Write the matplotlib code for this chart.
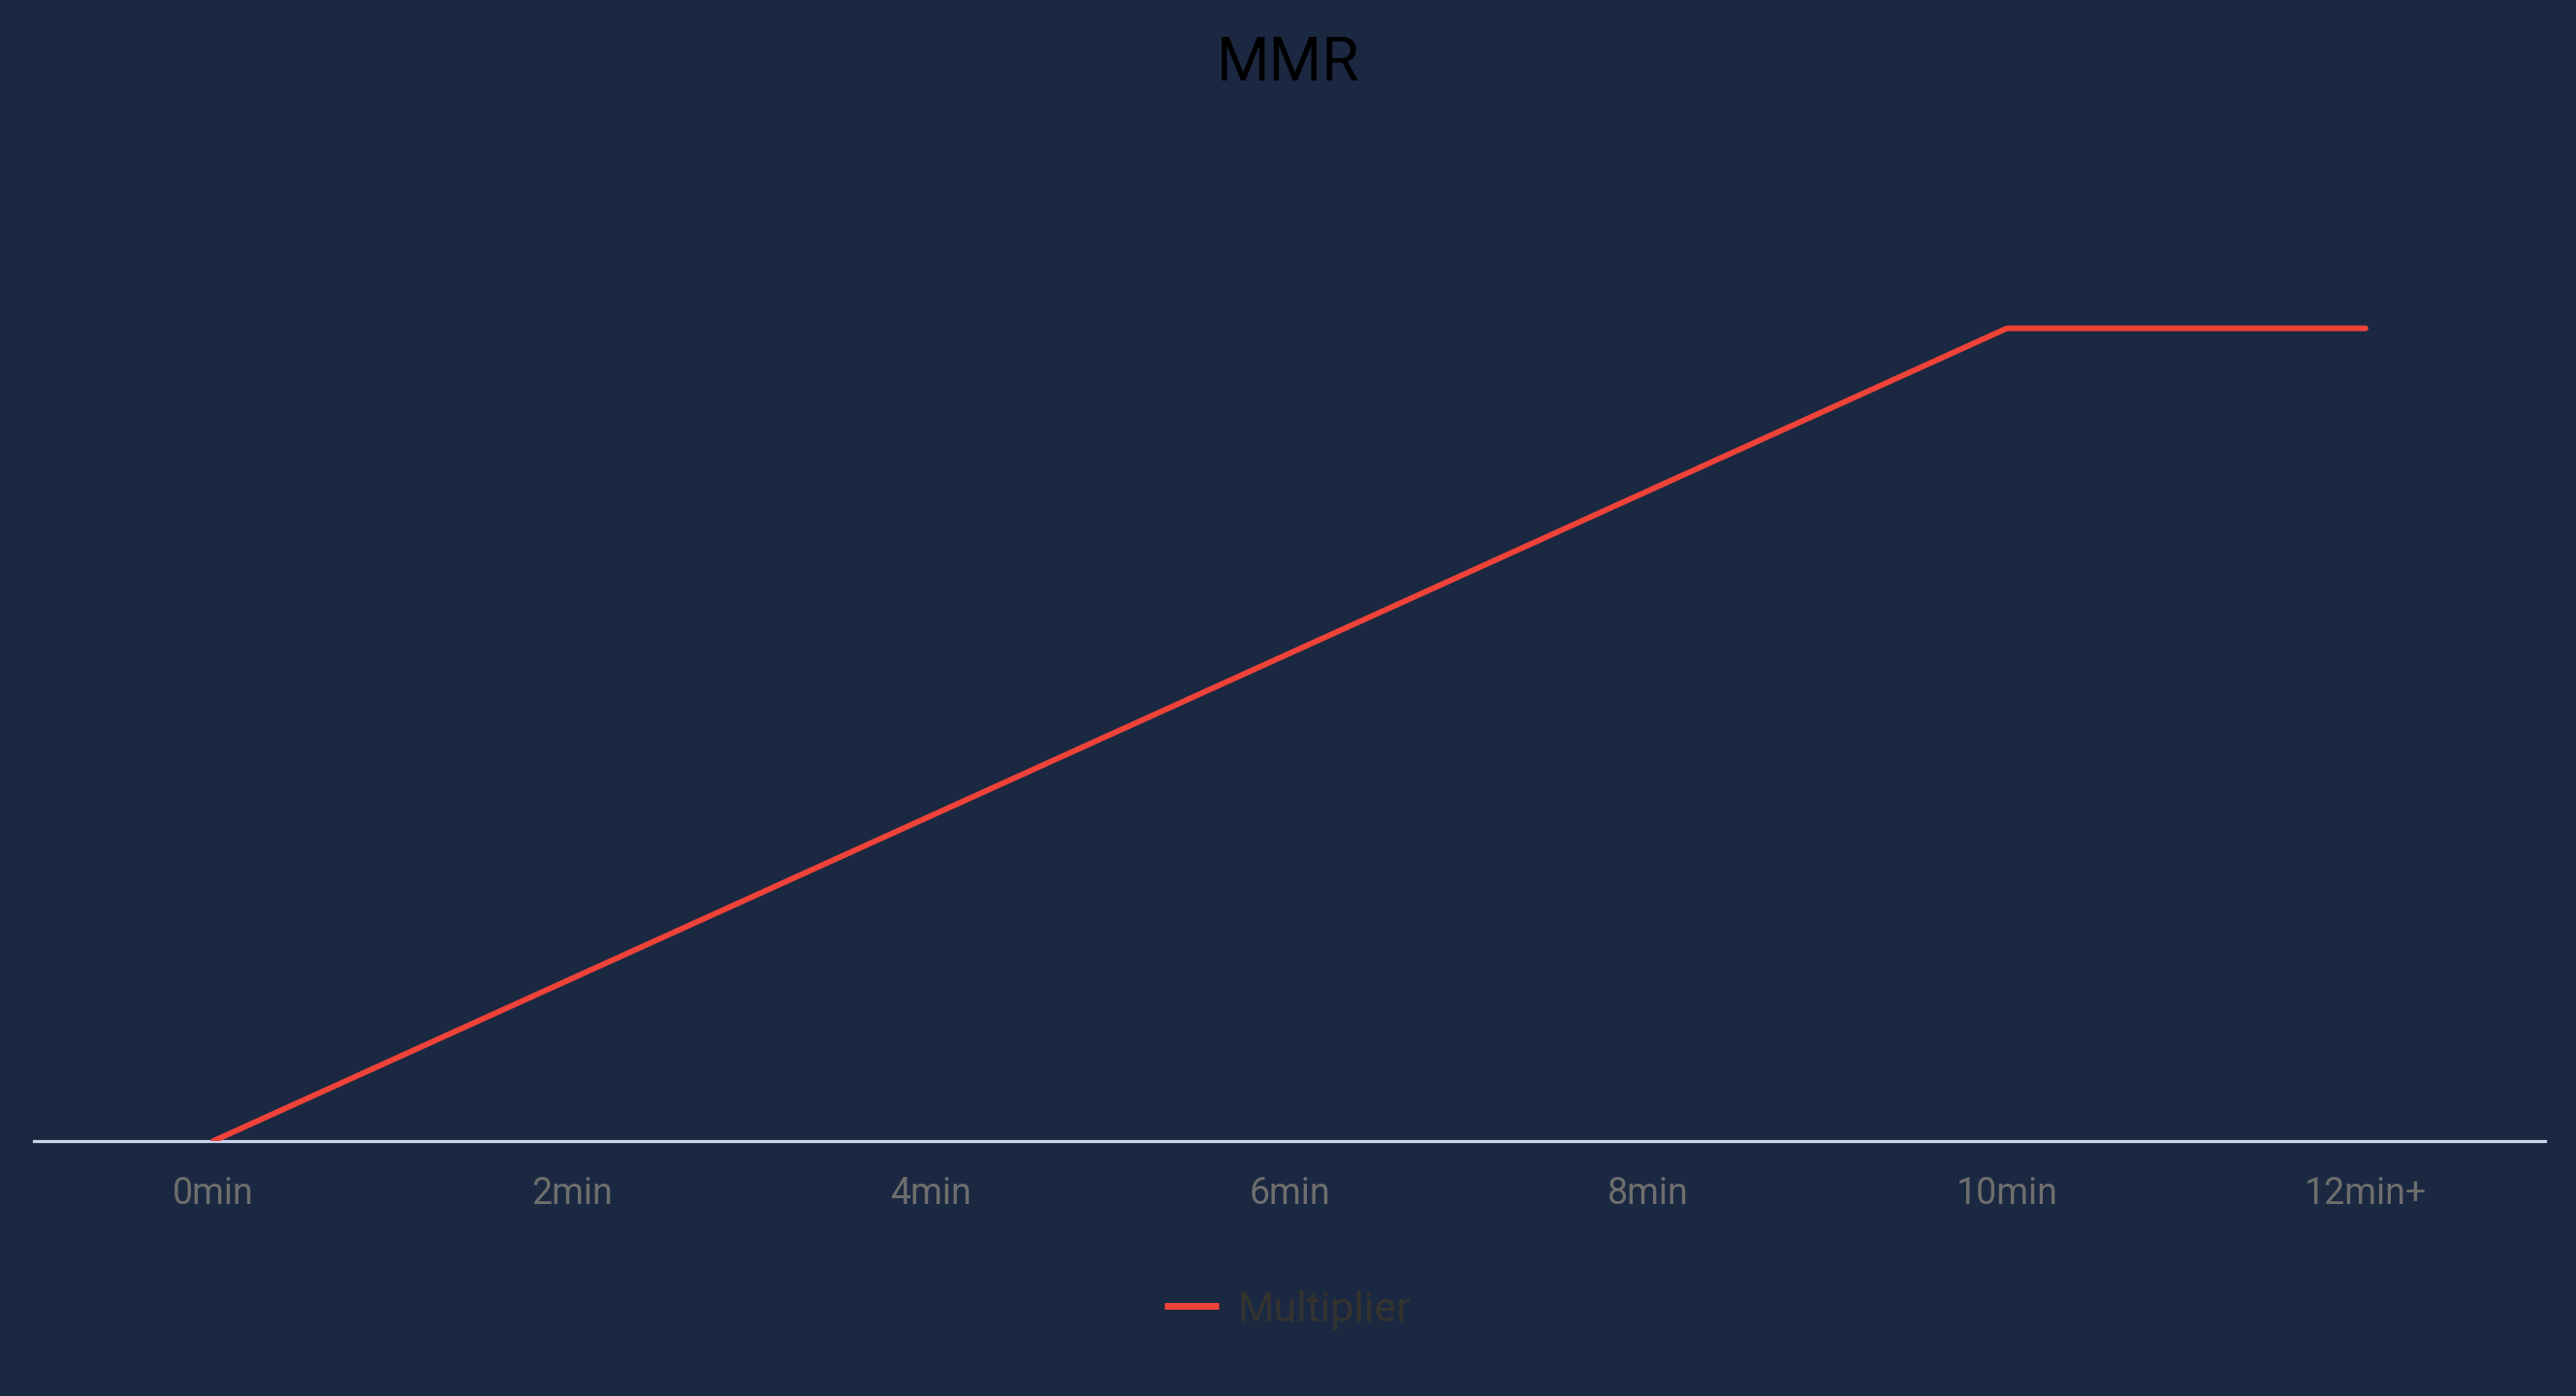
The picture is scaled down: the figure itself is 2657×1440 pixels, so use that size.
import matplotlib
matplotlib.use("Agg")
import matplotlib.pyplot as plt

categories = ["0min", "2min", "4min", "6min", "8min", "10min", "12min+"]
multiplier = [0, 1, 2, 3, 4, 5, 5]
series_name = "Multiplier"
title = "MMR"

W, H = 2657, 1440
BG = "#1b2841"
RED = "#ef4338"

plt.rcParams["font.family"] = ["Roboto", "DejaVu Sans"]
fig = plt.figure(figsize=(W / 100, H / 100), dpi=100, facecolor=BG)
left, right = 35 / W, 2625 / W
bottom = 1 - 1177 / H
top = 1 - 171 / H
ax = fig.add_axes([left, bottom, right - left, top - bottom], facecolor=BG)

x = list(range(len(categories)))
line, = ax.plot(x, multiplier, color=RED, lw=4.2, solid_capstyle="round",
                solid_joinstyle="round", label=series_name, zorder=3)

ax.set_xlim(-0.5, len(categories) - 0.5)
ax.set_ylim(0, 6)
ax.set_xticks(x)
ax.set_xticklabels(categories, fontsize=27, color="#6e6e6e")
ax.tick_params(axis="x", length=0, pad=26)
ax.set_yticks([])
for s in ["top", "right", "left"]:
    ax.spines[s].set_visible(False)
ax.spines["bottom"].set_color("#c9d4ea")
ax.spines["bottom"].set_linewidth(2.3)
ax.spines["bottom"].set_zorder(2)

fig.text(0.5, 1 - 66 / H, title, ha="center", va="center", fontsize=45, color="#000000")

leg = fig.legend(handles=[line], loc="center", bbox_to_anchor=(0.5, 1 - 1351 / H),
                 frameon=False, fontsize=31, handlelength=1.3, handletextpad=0.45)
for t in leg.get_texts():
    t.set_color("#35332f")
for h in leg.legend_handles:
    h.set_linewidth(5)
    h.set_solid_capstyle("butt")

fig.savefig("out.png", dpi=100, facecolor=BG)
